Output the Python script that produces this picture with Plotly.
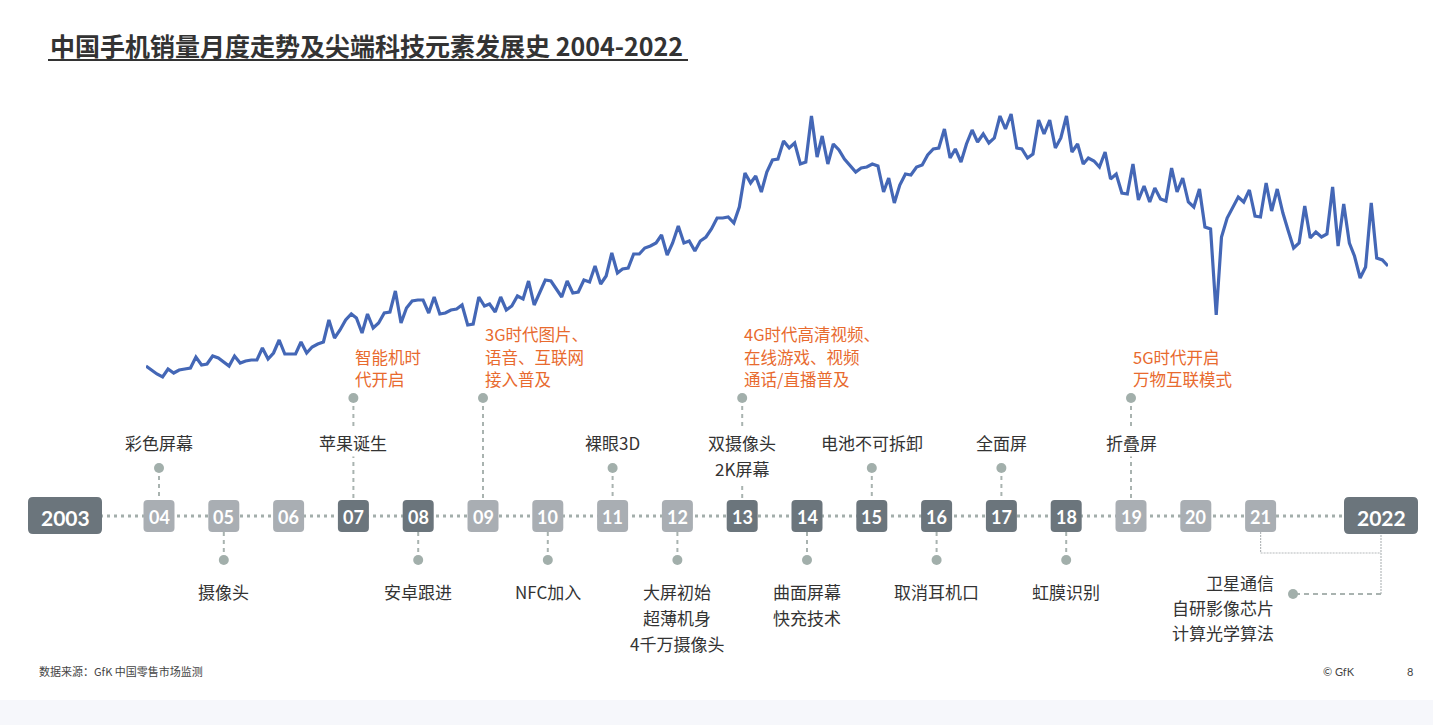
import plotly.graph_objects as go
import pandas as pd

W, H = 1433, 725

# ---------------- data ----------------
# monthly handset sales index (x 100k units), Jan 2004 - Sep 2022
sales = [34, 30, 26, 23, 31, 27, 30, 31, 32, 43, 35, 36,
         44, 42, 38, 34, 44, 37, 39, 40, 40, 52, 41, 47,
         60, 46, 46, 46, 58, 47, 53, 56, 58, 80, 62, 70,
         80, 86, 82, 67, 86, 72, 77, 87, 88, 109, 77, 92,
         99, 100, 100, 87, 103, 86, 87, 90, 91, 95, 75, 76,
         103, 94, 96, 88, 103, 90, 94, 104, 101, 119, 95, 107,
         120, 119, 111, 103, 119, 107, 108, 120, 118, 134, 116, 124,
         147, 127, 131, 132, 146, 146, 152, 154, 157, 165, 145, 157,
         174, 157, 159, 149, 159, 163, 171, 182, 182, 183, 177, 193,
         227, 217, 224, 208, 228, 240, 241, 259, 252, 257, 236, 238,
         284, 243, 264, 236, 256, 250, 241, 235, 228, 232, 233, 236,
         234, 208, 222, 197, 215, 226, 225, 233, 235, 245, 251, 252,
         271, 242, 251, 238, 256, 270, 258, 266, 257, 262, 284, 271,
         286, 252, 251, 242, 246, 280, 266, 280, 252, 262, 284, 248,
         256, 236, 242, 239, 233, 248, 221, 226, 207, 206, 236, 200,
         214, 198, 212, 201, 199, 232, 208, 222, 198, 193, 211, 173,
         171, 85, 163, 182, 192, 203, 198, 210, 184, 183, 217, 189,
         211, 187, 170, 152, 157, 194, 162, 168, 163, 166, 213, 154,
         196, 157, 144, 122, 133, 197, 142, 140, 134]
months = pd.date_range("2004-01-01", periods=len(sales), freq="MS")

tl_years = list(range(2004, 2022))
tl_labels = ["04", "05", "06", "07", "08", "09", "10", "11", "12",
             "13", "14", "15", "16", "17", "18", "19", "20", "21"]
dark_years = [2007, 2008, 2013, 2014, 2015, 2016, 2017, 2018]
start_label, end_label = "2003", "2022"

up_years = [2004, 2007, 2011, 2013, 2015, 2017, 2019]
up_texts = [["彩色屏幕"], ["苹果诞生"], ["裸眼3D"], ["双摄像头", "2K屏幕"],
            ["电池不可拆卸"], ["全面屏"], ["折叠屏"]]
down_years = [2005, 2008, 2010, 2012, 2014, 2016, 2018]
down_texts = [["摄像头"], ["安卓跟进"], ["NFC加入"], ["大屏初始", "超薄机身", "4千万摄像头"],
              ["曲面屏幕", "快充技术"], ["取消耳机口"], ["虹膜识别"]]
era_years = [2007, 2009, 2013, 2019]
era_texts = [["智能机时", "代开启"], ["3G时代图片、", "语音、互联网", "接入普及"],
             ["4G时代高清视频、", "在线游戏、视频", "通话/直播普及"], ["5G时代开启", "万物互联模式"]]
end_texts = ["卫星通信", "自研影像芯片", "计算光学算法"]

title = "中国手机销量月度走势及尖端科技元素发展史 2004-2022"
source = "数据来源：GfK 中国零售市场监测"

# ---------------- styles ----------------
CJK = "Noto Sans CJK SC"
LINE_BLUE = "#4467b6"
ORANGE = "#e86a2e"
DARK_BOX = "#6b757c"
LIGHT_BOX = "#a9aeb3"
DOT = "#a2afab"
CONN = "#a9b3b0"
TXT = "#333333"

PX = 64.8                       # px per timeline year
X0 = 2004 - 159 / PX            # timeline axis range
X1 = 2004 + (W - 159) / PX
START_POS = 2004 - (159 - 65) / PX
END_POS = 2004 + (1381 - 159) / PX
TL_Y = 516
SMALL = 15.5 / PX
BIG = 37 / PX


def rrect(x0, y0, x1, y1, r):
    rx, ry = r / PX, r
    return (f"M{x0+rx},{y0} L{x1-rx},{y0} Q{x1},{y0} {x1},{y0+ry} "
            f"L{x1},{y1-ry} Q{x1},{y1} {x1-rx},{y1} L{x0+rx},{y1} "
            f"Q{x0},{y1} {x0},{y1-ry} L{x0},{y0+ry} Q{x0},{y0} {x0+rx},{y0} Z")


fig = go.Figure()

# sales line
fig.add_trace(go.Scatter(x=months, y=sales, mode="lines",
                         line=dict(color=LINE_BLUE, width=3.2),
                         xaxis="x", yaxis="y", hoverinfo="skip", showlegend=False))

shapes = []
annotations = []

# timeline dotted line
shapes.append(dict(type="line", xref="x2", yref="y2", x0=START_POS, x1=END_POS,
                   y0=TL_Y, y1=TL_Y, layer="below",
                   line=dict(color="#a3aeab", width=3, dash="3px,4px")))

dot_x, dot_y = [], []

# connectors
for yr in up_years:
    if yr in era_years:
        continue
    shapes.append(dict(type="line", xref="x2", yref="y2", x0=yr, x1=yr, y0=468, y1=500,
                       layer="below", line=dict(color=CONN, width=2, dash="4px,4px")))
    dot_x.append(yr); dot_y.append(468)
for yr in down_years:
    shapes.append(dict(type="line", xref="x2", yref="y2", x0=yr, x1=yr, y0=532, y1=560,
                       layer="below", line=dict(color=CONN, width=2, dash="4px,4px")))
    dot_x.append(yr); dot_y.append(560)
for yr in era_years:
    shapes.append(dict(type="line", xref="x2", yref="y2", x0=yr, x1=yr, y0=398, y1=500,
                       layer="below", line=dict(color=CONN, width=2, dash="4px,4px")))
    dot_x.append(yr); dot_y.append(398)

# 2021/2022 bracket to end note
shapes.append(dict(type="path", xref="x2", yref="y2", layer="below",
                   path=f"M2021,532 L2021,553 L{END_POS},553",
                   line=dict(color="#b5b9bb", width=1.2, dash="2px,1px")))
shapes.append(dict(type="line", xref="x2", yref="y2", x0=END_POS, x1=END_POS, y0=535, y1=594,
                   layer="below", line=dict(color="#b5b9bb", width=1.2, dash="2px,1px")))
end_dot = END_POS - 88 / PX
shapes.append(dict(type="line", xref="x2", yref="y2", x0=END_POS, x1=end_dot, y0=594, y1=594,
                   layer="below", line=dict(color=CONN, width=2, dash="5px,4px")))
dot_x.append(end_dot); dot_y.append(594)

# boxes
for yr, lab in zip(tl_years, tl_labels):
    col = DARK_BOX if yr in dark_years else LIGHT_BOX
    shapes.append(dict(type="path", xref="x2", yref="y2", layer="below",
                       path=rrect(yr - SMALL, 500, yr + SMALL, 532, 4),
                       fillcolor=col, line=dict(width=0)))
    annotations.append(dict(x=yr, y=TL_Y + 1, xref="x2", yref="y2", text=f"<b>{lab}</b>",
                            showarrow=False, font=dict(family="Lato", size=18, color="white")))
for pos, lab in [(START_POS, start_label), (END_POS, end_label)]:
    shapes.append(dict(type="path", xref="x2", yref="y2", layer="below",
                       path=rrect(pos - BIG, 497, pos + BIG, 534, 5),
                       fillcolor=DARK_BOX, line=dict(width=0)))
    annotations.append(dict(x=pos, y=TL_Y + 1, xref="x2", yref="y2", text=f"<b>{lab}</b>",
                            showarrow=False, font=dict(family="Lato", size=21, color="white")))

# event labels
for yr, lines in zip(up_years, up_texts):
    for i, t in enumerate(lines):
        annotations.append(dict(x=yr, y=442 + 26 * i, xref="x2", yref="y2", text=t,
                                showarrow=False, bgcolor="white", borderpad=1,
                                font=dict(family=CJK, size=17, color=TXT)))
for yr, lines in zip(down_years, down_texts):
    for i, t in enumerate(lines):
        annotations.append(dict(x=yr, y=591 + 26 * i, xref="x2", yref="y2", text=t,
                                showarrow=False, font=dict(family=CJK, size=17, color=TXT)))
for yr, lines in zip(era_years, era_texts):
    n = len(lines)
    for i, t in enumerate(lines):
        annotations.append(dict(x=yr, y=379 - 22.5 * (n - 1 - i), xref="x2", yref="y2", text=t,
                                xanchor="left", showarrow=False,
                                font=dict(family=CJK, size=16.5, color=ORANGE)))
for i, t in enumerate(end_texts):
    annotations.append(dict(x=end_dot - 17 / PX, y=582 + 25 * i, xref="x2", yref="y2", text=t,
                            xanchor="right", showarrow=False,
                            font=dict(family=CJK, size=17, color=TXT)))

# dots
fig.add_trace(go.Scatter(x=dot_x, y=dot_y, mode="markers", xaxis="x2", yaxis="y2",
                         marker=dict(color=DOT, size=10, line=dict(width=0)),
                         hoverinfo="skip", showlegend=False))

# title
annotations.append(dict(x=48 / W, y=45, xref="paper", yref="y2", xanchor="left",
                        text=f"<b>{title}</b>", showarrow=False,
                        font=dict(family=CJK, size=25, color="#333333")))
shapes.append(dict(type="line", xref="paper", yref="y2", x0=48 / W, x1=688 / W, y0=60, y1=60,
                   line=dict(color="#333333", width=2)))

# footer
annotations.append(dict(x=37 / W, y=671, xref="paper", yref="y2", xanchor="left",
                        text=source, showarrow=False,
                        font=dict(family=CJK, size=11, color="#444444")))
annotations.append(dict(x=1357 / W, y=671, xref="paper", yref="y2", xanchor="right",
                        text="© GfK", showarrow=False,
                        font=dict(family="Lato", size=11, color="#444444")))
annotations.append(dict(x=1415 / W, y=671, xref="paper", yref="y2",
                        text="8", showarrow=False,
                        font=dict(family="Lato", size=11, color="#444444")))
shapes.append(dict(type="rect", xref="paper", yref="paper", x0=0, x1=1, y0=0, y1=25 / H,
                   fillcolor="#f6f7fb", line=dict(width=0), layer="below"))

fig.update_layout(
    width=W, height=H,
    margin=dict(l=0, r=0, t=0, b=0),
    paper_bgcolor="white", plot_bgcolor="rgba(0,0,0,0)",
    showlegend=False,
    xaxis=dict(domain=[146 / W, 1388 / W], range=[months[0], months[-1]], visible=False,
               anchor="y"),
    yaxis=dict(domain=[1 - 400 / H, 1 - 100 / H], range=[0, 300], visible=False, anchor="x"),
    xaxis2=dict(domain=[0, 1], range=[X0, X1], visible=False, anchor="y2"),
    yaxis2=dict(domain=[0, 1], range=[H, 0], visible=False, anchor="x2"),
    shapes=shapes,
    annotations=annotations,
)

fig.write_html("out.html",
               config={"displayModeBar": False, "staticPlot": True},
               post_script="document.body.style.margin='0';document.body.style.overflow='hidden';")
